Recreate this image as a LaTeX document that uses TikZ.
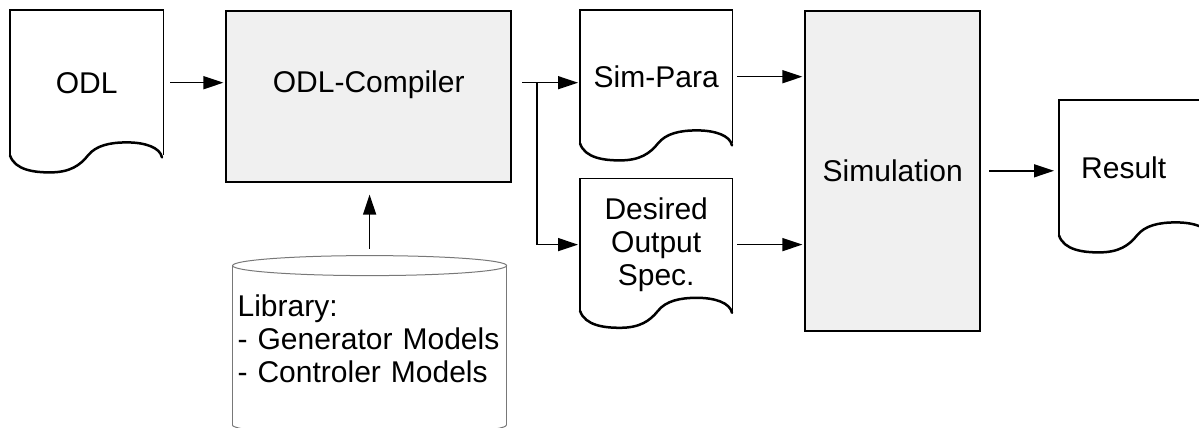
\documentclass[tikz,border=0pt]{standalone}
\usepackage{fontspec}
\setmainfont{Liberation Sans}
\usetikzlibrary{positioning,arrows.meta}

\definecolor{procfill}{RGB}{240,240,240}
\definecolor{drumgray}{RGB}{120,120,120}

% outline of a document: straight sides and a wavy bottom edge
\newcommand\docoutline[1]{%
  \draw[docline] (#1.south west) -- (#1.north west) -- (#1.north east) -- (#1.south east);
  \begin{scope}[shift={(#1.south west)}]
    \draw[waveline] (0,0) .. controls (5,15) and (25,17) .. (40,17)
                          .. controls (60,17) and (70,10) .. (78,0)
                          .. controls (86,-10) and (100,-13) .. (117,-13)
                          .. controls (135,-13) and (150,-8) .. (152,2);
  \end{scope}}

% outline of a data store
\newcommand\drumoutline[1]{%
  \draw[drumline] (#1.south west) -- (#1.north west) (#1.north east) -- (#1.south east);
  \draw[drumline] (#1.north) ellipse [x radius=137, y radius=10];
  \draw[drumline] (#1.south west) arc [start angle=180, end angle=0, x radius=137, y radius=10];}

\begin{document}
\begin{tikzpicture}[
      x=1pt, y=-1pt,
      every node/.style = {font=\fontsize{30}{33}\selectfont, align=center, inner sep=0pt},
      docnode/.style  = {minimum width=152pt, minimum height=133pt, anchor=north west},
      procbox/.style  = {draw=black, line width=1.6pt, fill=procfill, anchor=north west},
      drumnode/.style = {minimum height=159pt, text width=264pt, inner xsep=5pt, align=left, anchor=north west},
      docline/.style  = {line width=1.5pt},
      waveline/.style = {line width=2.5pt, line join=round, line cap=round},
      drumline/.style = {draw=drumgray, line width=1pt},
      flow/.style     = {line width=1.5pt, -{Triangle[length=20pt,width=13pt]}, shorten <=5pt, shorten >=2pt}
    ]
    \useasboundingbox (0,0) rectangle (1199,428);

    \node (odl)      [docnode, minimum width=153pt, minimum height=145pt] at (10,10) {ODL};
    \node (compiler) [right=62pt of odl.north east, procbox, minimum width=285pt, minimum height=171pt, text depth=29pt] {ODL-Compiler};
    \node (simpara)  [right=68pt of compiler.north east, docnode]                   {Sim-Para};
    \node (desired)  [below=35pt of simpara.south west, docnode, minimum height=132pt] {Desired\\Output\\Spec.};
    \node (sim)      [right=72pt of simpara.north east, procbox, minimum width=175pt, minimum height=320pt] {Simulation};
    \node (result)   [below right=90pt and 78pt of sim.north east, docnode, minimum height=135pt,
                      text width=108pt, inner xsep=22pt, align=left]                 {Result};
    \node (library)  [below right=83pt and 7pt of compiler.south west, drumnode, text height=8pt] {Library:\\- Generator Models\\- Controler Models};

    \docoutline{odl}
    \docoutline{simpara}
    \docoutline{desired}
    \docoutline{result}
    \drumoutline{library}

    \path (compiler.east |- odl.east) ++(25pt,0) coordinate (fork);

    \draw[flow, shorten <=7pt]  (odl.east)            to (odl.east -| compiler.west);
    \draw[flow, shorten <=10pt] (compiler.east |- fork) to (fork -| simpara.west);
    \draw[flow, shorten <=0pt]  (fork)                |- (desired.west);
    \draw[flow]                 (simpara.east)        to (simpara.east -| sim.west);
    \draw[flow]                 (desired.east)        to (desired.east -| sim.west);
    \draw[flow, shorten <=8pt, shorten >=5pt] (sim.east) to (sim.east -| result.west);
    \draw[flow, shorten <=17pt, shorten >=12pt] (library.north) to (library.north |- compiler.south);
  \end{tikzpicture}
\end{document}
